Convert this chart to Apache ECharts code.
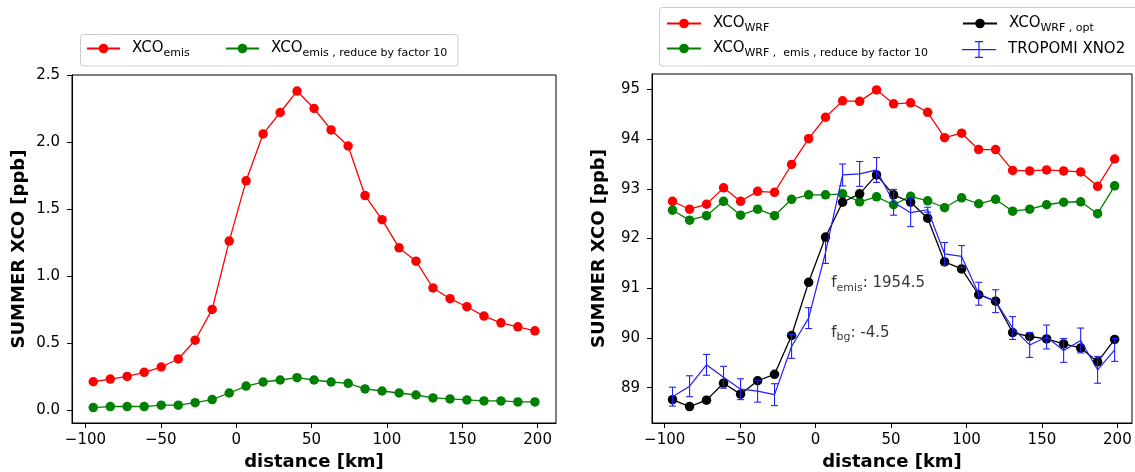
<!DOCTYPE html>
<html>
<head>
<meta charset="utf-8">
<script src="https://cdn.jsdelivr.net/npm/echarts@6/dist/echarts.min.js"></script>
<style>
  html, body { margin: 0; padding: 0; background: #fff; }
  #chart { width: 1135px; height: 472px; }
</style>
</head>
<body>
<div id="chart"></div>
<script>
// Along-plume distance of each sample [km]
const distanceKm = [-94.8, -83.5, -72.3, -61.0, -49.7, -38.4, -27.2, -15.9, -4.6, 6.6, 17.9, 29.2, 40.4,
  51.7, 63.0, 74.3, 85.5, 96.8, 108.1, 119.3, 130.6, 141.9, 153.1, 164.4, 175.7, 186.9, 198.2];

// Left panel: emission-only XCO
const xcoEmis = [0.21, 0.23, 0.25, 0.28, 0.32, 0.38, 0.52, 0.75, 1.26, 1.71, 2.06, 2.22, 2.38,
  2.25, 2.09, 1.97, 1.60, 1.42, 1.21, 1.11, 0.91, 0.83, 0.77, 0.70, 0.65, 0.62, 0.59];
const xcoEmisReduced = [0.017, 0.025, 0.025, 0.025, 0.035, 0.035, 0.054, 0.077, 0.126, 0.178, 0.208, 0.223, 0.240,
  0.223, 0.208, 0.198, 0.156, 0.141, 0.126, 0.111, 0.089, 0.082, 0.074, 0.067, 0.067, 0.059, 0.059];

// Right panel: WRF total columns, optimised fit and TROPOMI
const xcoWrf = [92.75, 92.59, 92.69, 93.02, 92.75, 92.95, 92.93, 93.49, 94.01, 94.44, 94.77, 94.76, 94.99,
  94.71, 94.73, 94.54, 94.03, 94.12, 93.79, 93.79, 93.37, 93.36, 93.38, 93.36, 93.34, 93.05, 93.60];
const xcoWrfReduced = [92.57, 92.37, 92.46, 92.75, 92.47, 92.59, 92.46, 92.79, 92.88, 92.88, 92.90, 92.74, 92.84,
  92.68, 92.85, 92.76, 92.62, 92.82, 92.70, 92.79, 92.55, 92.59, 92.68, 92.73, 92.74, 92.50, 93.06];
const xcoWrfOpt = [88.76, 88.62, 88.75, 89.09, 88.87, 89.14, 89.27, 90.05, 91.12, 92.03, 92.73, 92.90, 93.28,
  92.88, 92.73, 92.41, 91.53, 91.39, 90.87, 90.74, 90.11, 90.03, 89.98, 89.88, 89.80, 89.52, 89.97];
const tropomi = [88.82, 89.03, 89.46, 89.21, 88.97, 88.93, 88.86, 89.83, 90.40, 91.72, 93.28, 93.30, 93.38,
  92.73, 92.52, 92.58, 91.69, 91.64, 90.89, 90.74, 90.20, 89.86, 90.02, 89.75, 89.95, 89.36, 89.76];
const tropomiErr = [0.19, 0.21, 0.21, 0.22, 0.21, 0.22, 0.22, 0.24, 0.21, 0.22, 0.22, 0.25, 0.25,
  0.26, 0.28, 0.05, 0.23, 0.22, 0.23, 0.23, 0.23, 0.25, 0.24, 0.24, 0.25, 0.27, 0.23];

// Axis ticks
const xTicks = [-100, -50, 0, 50, 100, 150, 200];
const leftYTicks = [0, 0.5, 1.0, 1.5, 2.0, 2.5];
const rightYTicks = [89, 90, 91, 92, 93, 94, 95];

// Fit factors written inside the right panel
const fitNotes = [
  { x: 10, y: 91, sub: 'emis', text: ': 1954.5' },
  { x: 10, y: 90, sub: 'bg', text: ': -4.5' }
];

const FONT = 'DejaVu Sans';
const pairs = (ys) => ys.map((v, i) => [distanceKm[i], v]);

const rich = {
  m: { fontFamily: FONT, fontSize: 15, lineHeight: 20, color: '#000', padding: [0, 0, 0, 7] },
  n: { fontFamily: FONT, fontSize: 15, lineHeight: 20, color: '#000' },
  s: { fontFamily: FONT, fontSize: 11, lineHeight: 12, color: '#000', verticalAlign: 'bottom' }
};

const legendText = {
  emis: '{m|XCO}{s|emis}',
  emisReduced: '{m|XCO}{s|emis , reduce by factor 10}',
  wrf: '{m|XCO}{s|WRF}',
  wrfReduced: '{m|XCO}{s|WRF ,  emis , reduce by factor 10}',
  wrfOpt: '{m|XCO}{s|WRF , opt}',
  tropomi: '{m|TROPOMI XNO2}'
};

function legendAt(name, left, top, extra) {
  return Object.assign({
    data: [name], left: left, top: top, padding: 0, itemGap: 0,
    itemWidth: 34, itemHeight: 12, selectedMode: false,
    formatter: (n) => legendText[n],
    textStyle: { rich: rich }
  }, extra || {});
}

const errorBarIcon = 'path://M0,8 L34,8 L34,9.2 L0,9.2 Z M16.4,0 L17.6,0 L17.6,17 L16.4,17 Z ' +
  'M13,0 L21,0 L21,1.2 L13,1.2 Z M13,15.8 L21,15.8 L21,17 L13,17 Z';

function valueAxis(gridIndex, min, max, ticks, fmt, extra) {
  return Object.assign({
    type: 'value', gridIndex: gridIndex, min: min, max: max,
    axisLine: { show: true, onZero: false, lineStyle: { color: '#000', width: 1 } },
    axisTick: { show: true, length: 5, lineStyle: { color: '#000', width: 1 }, customValues: ticks },
    axisLabel: { show: true, customValues: ticks, formatter: fmt, fontFamily: FONT, fontSize: 15, color: '#000' },
    splitLine: { show: false },
    nameTextStyle: { fontFamily: FONT, fontSize: 18, fontWeight: 'bold', color: '#000' }
  }, extra || {});
}

const fmtX = (v) => (v < 0 ? '\u2212' + Math.abs(v) : String(v));
const fmtLeftY = (v) => v.toFixed(1);
const fmtRightY = (v) => String(Math.round(v));

function lineSeries(name, data, color, xi, yi, z) {
  return {
    type: 'line', name: name, data: pairs(data), xAxisIndex: xi, yAxisIndex: yi,
    symbol: 'circle', symbolSize: 9.5, showSymbol: true,
    itemStyle: { color: color }, lineStyle: { color: color, width: 1.3 },
    z: z, animation: false
  };
}

const chart = echarts.init(document.getElementById('chart'), null, { renderer: 'canvas' });

chart.setOption({
  animation: false,
  backgroundColor: '#fff',
  graphic: [
    { type: 'rect', shape: { x: 80.5, y: 34.5, width: 377.5, height: 31.5, r: 3 },
      style: { fill: 'rgba(255,255,255,0.8)', stroke: '#cccccc', lineWidth: 1 }, z: 10 },
    { type: 'rect', shape: { x: 659.5, y: 7.5, width: 490, height: 58.5, r: 3 },
      style: { fill: 'rgba(255,255,255,0.8)', stroke: '#cccccc', lineWidth: 1 }, z: 10 }
  ],
  legend: [
    legendAt('emis', 86, 41, { itemWidth: 33, z: 20 }),
    legendAt('emisReduced', 225, 41, { itemWidth: 33, z: 20 }),
    legendAt('wrf', 666, 16, { z: 20 }),
    legendAt('wrfReduced', 666, 41, { z: 20 }),
    legendAt('wrfOpt', 962, 16, { z: 20 }),
    legendAt('tropomi', 962, 41, {
      data: [{ name: 'tropomi', icon: errorBarIcon, itemStyle: { color: '#1f1fff', borderWidth: 0 } }],
      itemHeight: 17, z: 20
    })
  ],
  grid: [
    { left: 72, top: 75, width: 484, height: 348, show: true, borderColor: '#000', borderWidth: 1,
      backgroundColor: 'transparent', outerBoundsMode: 'none', containLabel: false },
    { left: 652, top: 74, width: 480, height: 349, show: true, borderColor: '#000', borderWidth: 1,
      backgroundColor: 'transparent', outerBoundsMode: 'none', containLabel: false }
  ],
  xAxis: [
    valueAxis(0, -108.9, 212.2, xTicks, fmtX, {
      name: 'distance [km]', nameLocation: 'middle', nameGap: 27,
      axisLabel: { customValues: xTicks, formatter: fmtX, fontFamily: FONT, fontSize: 15, color: '#000', margin: 10 }
    }),
    valueAxis(1, -108.4, 209.7, xTicks, fmtX, {
      name: 'distance [km]', nameLocation: 'middle', nameGap: 27,
      axisLabel: { customValues: xTicks, formatter: fmtX, fontFamily: FONT, fontSize: 15, color: '#000', margin: 10 }
    })
  ],
  yAxis: [
    valueAxis(0, -0.098, 2.5, leftYTicks, fmtLeftY, {
      name: 'SUMMER XCO [ppb]', nameLocation: 'middle', nameGap: 44,
      axisLabel: { customValues: leftYTicks, formatter: fmtLeftY, fontFamily: FONT, fontSize: 15, color: '#000', margin: 12 }
    }),
    valueAxis(1, 88.29, 95.31, rightYTicks, fmtRightY, {
      name: 'SUMMER XCO [ppb]', nameLocation: 'middle', nameGap: 44,
      axisLabel: { customValues: rightYTicks, formatter: fmtRightY, fontFamily: FONT, fontSize: 15, color: '#000', margin: 12 }
    })
  ],
  series: [
    lineSeries('emis', xcoEmis, '#ff0000', 0, 0, 2),
    lineSeries('emisReduced', xcoEmisReduced, '#008000', 0, 0, 3),
    lineSeries('wrf', xcoWrf, '#ff0000', 1, 1, 2),
    lineSeries('wrfReduced', xcoWrfReduced, '#008000', 1, 1, 3),
    lineSeries('wrfOpt', xcoWrfOpt, '#000000', 1, 1, 4),
    {
      type: 'line', name: 'tropomi', data: pairs(tropomi), xAxisIndex: 1, yAxisIndex: 1,
      symbol: 'none', showSymbol: false,
      itemStyle: { color: '#1f1fff' }, lineStyle: { color: '#1f1fff', width: 1.2 }, z: 5
    },
    {
      type: 'custom', name: 'tropomi', xAxisIndex: 1, yAxisIndex: 1, z: 5,
      data: tropomi.map((v, i) => [distanceKm[i], v - tropomiErr[i], v + tropomiErr[i]]),
      encode: { x: 0, y: [1, 2] },
      renderItem: function (params, api) {
        const lo = api.coord([api.value(0), api.value(1)]);
        const hi = api.coord([api.value(0), api.value(2)]);
        const w = 3.5;
        const st = { stroke: '#1f1fff', lineWidth: 1.1 };
        return {
          type: 'group',
          children: [
            { type: 'line', shape: { x1: lo[0], y1: lo[1], x2: hi[0], y2: hi[1] }, style: st },
            { type: 'line', shape: { x1: lo[0] - w, y1: lo[1], x2: lo[0] + w, y2: lo[1] }, style: st },
            { type: 'line', shape: { x1: hi[0] - w, y1: hi[1], x2: hi[0] + w, y2: hi[1] }, style: st }
          ]
        };
      }
    },
    {
      type: 'scatter', name: 'notes', xAxisIndex: 1, yAxisIndex: 1, z: 6, silent: true,
      data: fitNotes.map((n) => [n.x, n.y]),
      symbolSize: 1, itemStyle: { color: 'transparent' },
      label: {
        show: true, position: 'right', distance: 0, offset: [0, -5],
        formatter: (p) => '{n|f}{s|' + fitNotes[p.dataIndex].sub + '}{n|' + fitNotes[p.dataIndex].text + '}',
        rich: rich
      }
    }
  ]
});
</script>
</body>
</html>
